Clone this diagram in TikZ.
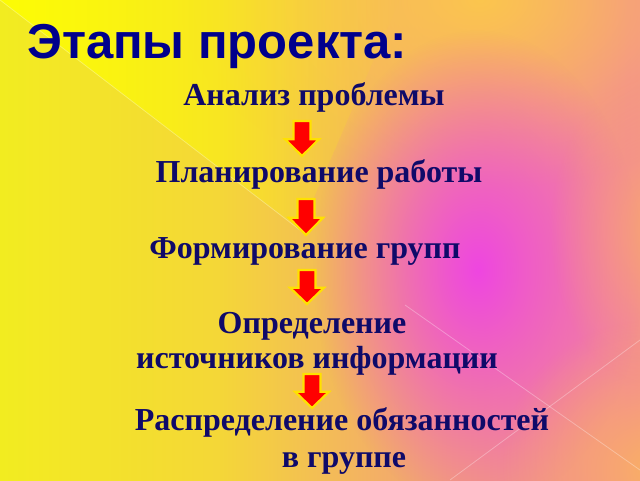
\documentclass[tikz,border=0pt]{standalone}
\usepackage{fontspec}
\setmainfont{Liberation Serif}
\newfontfamily\titlefont{Liberation Sans}
\usetikzlibrary{fadings}
\definecolor{bgY}{RGB}{242,240,28}
\definecolor{bgY2}{RGB}{244,215,55}
\definecolor{bgPe}{RGB}{242,158,122}
\definecolor{bgPk}{RGB}{242,130,160}
\definecolor{bgOr}{RGB}{250,180,95}
\definecolor{bgTop}{RGB}{252,200,75}
\definecolor{bgMg}{RGB}{238,70,225}
\definecolor{bright}{RGB}{255,255,0}
\definecolor{titleblue}{RGB}{0,0,140}
\definecolor{textblue}{RGB}{15,10,105}
\definecolor{arrred}{RGB}{255,0,0}
\definecolor{arredge}{RGB}{255,225,0}
\pgfdeclarehorizontalshading{bgshade}{100bp}{color(0bp)=(bgY); color(22bp)=(bgY); color(42bp)=(bgY2); color(60bp)=(bgPe); color(74bp)=(bgPk); color(100bp)=(bgOr)}
\tikzfading[name=rightfade, left color=transparent!0, right color=transparent!100]
\tikzfading[name=radfade, inner color=transparent!0, outer color=transparent!100]
\tikzset{
  stagetext/.style={font=\bfseries\fontsize{32}{36}\selectfont, text=textblue, inner sep=0pt, anchor=base},
  titletext/.style={font=\titlefont\bfseries\fontsize{49}{52}\selectfont, text=titleblue, inner sep=0pt, anchor=base west},
  blockarrow/.style={fill=arrred, draw=arredge, line width=2.2pt, line join=miter},
  bgline/.style={draw=white, opacity=0.3, line width=0.8pt}
}
\newcommand\downblock[4]{% name, x centre, y top, y tip
  \path[blockarrow] (#2-8.5,#3) -- (#2+8.5,#3) -- (#2+8.5,{#3+0.52*(#4-#3)}) -- (#2+17,{#3+0.52*(#4-#3)}) -- (#2,#4) -- (#2-17,{#3+0.52*(#4-#3)}) -- (#2-8.5,{#3+0.52*(#4-#3)}) -- cycle;
  \coordinate (#1) at (#2,{(#3+#4)/2});
}
\begin{document}
\begin{tikzpicture}[x=1pt,y=-1pt]
\useasboundingbox (0,0) rectangle (640,480);
% background
\shade[shading=bgshade] (0,0) rectangle (640,480);
\begin{scope}
\clip (0,0) rectangle (640,480);
\fill[bgTop, path fading=radfade, opacity=0.95] (480,0) ellipse (300 and 190);
\fill[bgMg, path fading=radfade] (478,270) ellipse (165 and 240);
\fill[bgOr, path fading=radfade, opacity=0.9] (650,470) circle (150);
\fill[bgOr, path fading=radfade, opacity=0.7] (660,230) ellipse (110 and 160);
\end{scope}
\fill[bright, path fading=rightfade, opacity=0.85] (0,0) -- (400,0) -- (300,230) -- cycle;
\path[bgline] (0,0) -- (300,230);
\path[bgline] (405,305) -- (640,470);
\path[bgline] (640,340) -- (450,480);
% title
\node[titletext] (title) at (27,58) {Этапы проекта:};
% stages
\node[stagetext] (s1) at (314,105) {Анализ проблемы};
\node[stagetext] (s2) at (319,182) {Планирование работы};
\node[stagetext] (s3) at (305,258) {Формирование групп};
\node[stagetext] (s4a) at (312,333) {Определение};
\node[stagetext] (s4b) at (317,368) {источников информации};
\node[stagetext] (s5a) at (342,430) {Распределение обязанностей};
\node[stagetext] (s5b) at (344,467) {в группе};
% arrows
\downblock{a1}{302}{121}{156}
\downblock{a2}{306}{199}{235}
\downblock{a3}{307}{270}{304}
\downblock{a4}{312}{374}{408}
\end{tikzpicture}
\end{document}
